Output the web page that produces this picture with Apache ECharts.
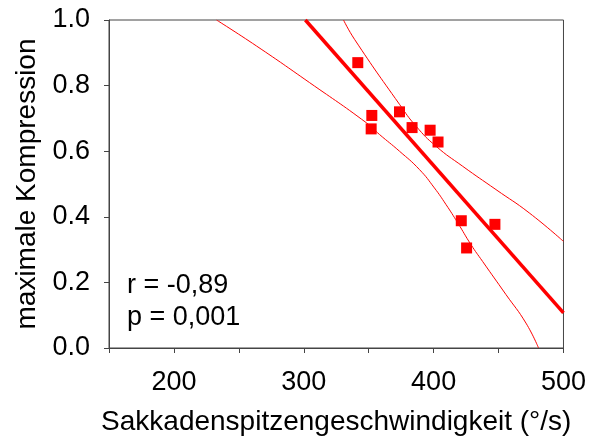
<!DOCTYPE html>
<html>
<head>
<meta charset="utf-8">
<script src="https://cdn.jsdelivr.net/npm/echarts@6/dist/echarts.min.js"></script>
<style>
  html, body { margin: 0; padding: 0; background: #fff; }
  #chart { width: 589px; height: 441px; }
</style>
</head>
<body>
<div id="chart"></div>
<script>
// Messpunkte (Sakkadenspitzengeschwindigkeit, maximale Kompression)
var speed = [341.6, 352.4, 351.9, 373.7, 383.4, 397.3, 403.4, 421.3, 447.2, 425.4];
var compression = [0.870, 0.709, 0.668, 0.720, 0.672, 0.664, 0.628, 0.388, 0.377, 0.305];

// Regressionsgerade
var fitLine = [[301.2, 1.0], [500, 0.107]];

// Konfidenzbaender
var upperBand = [[330.6, 1.0], [339.1, 0.941], [373.7, 0.743], [386.5, 0.676], [401.9, 0.615],
                 [422.4, 0.554], [448.0, 0.483], [473.6, 0.412], [500, 0.325]];
var lowerBand = [[232.8, 1.0], [263.5, 0.921], [304.5, 0.809], [348.1, 0.687], [358.3, 0.651],
                 [373.7, 0.600], [389.1, 0.544], [400.6, 0.488], [409.6, 0.437], [418.5, 0.382],
                 [428.8, 0.315], [437.7, 0.264], [455.7, 0.163], [471.1, 0.076], [480.8, 0.0]];

var xTicks = [200, 300, 400, 500];
var statsText = ["r = -0,89", "p = 0,001"];

var points = [];
for(let i = 0, len = speed.length; i < len; i++){
    points.push([speed[i], compression[i]]);
}

var red = '#ff0000';
var font = 'Liberation Sans, Arial, sans-serif';
var fs = 27;

var option = {
    animation: false,
    grid: {
        left: 109,
        right: 25,
        top: 20,
        bottom: 93,
        show: true,
        borderColor: '#444',
        borderWidth: 1
    },
    xAxis: {
        type: 'value',
        min: 150,
        max: 500,
        interval: 50,
        name: 'Sakkadenspitzengeschwindigkeit (°/s)',
        nameLocation: 'middle',
        nameGap: 60,
        nameTextStyle: { fontFamily: font, fontSize: 28, color: '#000' },
        axisLine: { lineStyle: { color: '#444' } },
        axisTick: { length: 5, lineStyle: { color: '#444' } },
        splitLine: { show: false },
        axisLabel: {
            margin: 21,
            fontFamily: font,
            fontSize: fs,
            color: '#000',
            formatter: function(v){
                return xTicks.indexOf(v) >= 0 ? String(v) : '';
            }
        }
    },
    yAxis: {
        type: 'value',
        min: 0,
        max: 1,
        interval: 0.2,
        name: 'maximale Kompression',
        nameLocation: 'middle',
        nameGap: 67,
        nameTextStyle: { fontFamily: font, fontSize: 28, color: '#000' },
        axisLine: { show: true, lineStyle: { color: '#444' } },
        axisTick: { show: true, length: 5, lineStyle: { color: '#444' } },
        splitLine: { show: false },
        axisLabel: {
            margin: 19,
            fontFamily: font,
            fontSize: fs,
            color: '#000',
            formatter: function(v){ return v.toFixed(1); }
        }
    },
    graphic: [
        {
            type: 'text',
            left: 127,
            top: 272,
            style: { text: statsText[0], font: fs + 'px ' + font, fill: '#000' }
        },
        {
            type: 'text',
            left: 127,
            top: 304,
            style: { text: statsText[1], font: fs + 'px ' + font, fill: '#000' }
        }
    ],
    series: [
        {
            type: 'line',
            data: upperBand,
            smooth: true,
            symbol: 'none',
            lineStyle: { color: red, width: 1 },
            z: 2
        },
        {
            type: 'line',
            data: lowerBand,
            smooth: true,
            symbol: 'none',
            lineStyle: { color: red, width: 1 },
            z: 2
        },
        {
            type: 'line',
            data: fitLine,
            symbol: 'none',
            lineStyle: { color: red, width: 3.5 },
            z: 3
        },
        {
            type: 'scatter',
            data: points,
            symbol: 'rect',
            symbolSize: 11,
            itemStyle: { color: red, opacity: 1 },
            z: 4
        }
    ]
};

var myChart = echarts.init(document.getElementById('chart'));
myChart.setOption(option);
</script>
</body>
</html>
